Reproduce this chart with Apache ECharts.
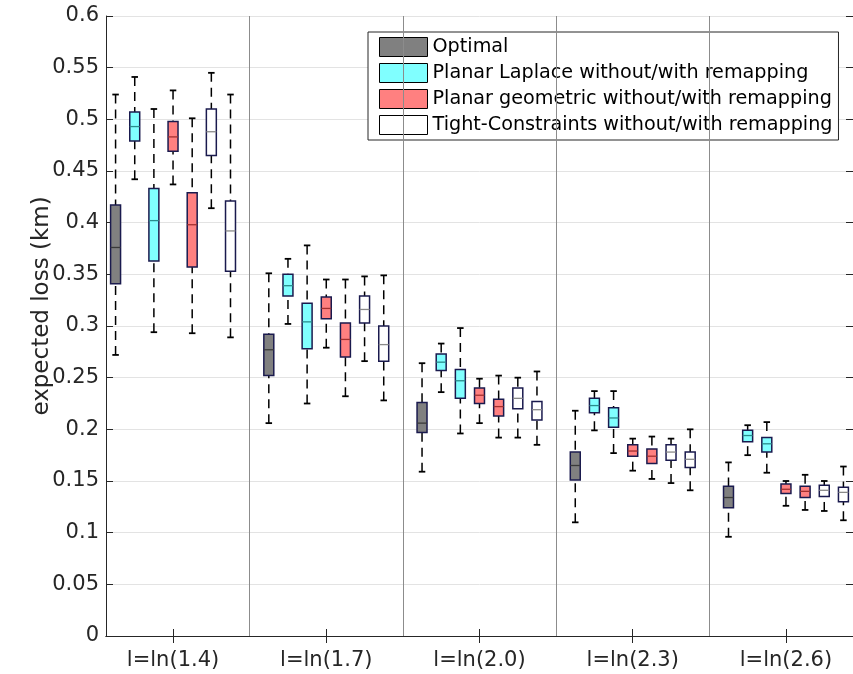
<!DOCTYPE html>
<html>
<head>
<meta charset="utf-8">
<script src="https://cdn.jsdelivr.net/npm/echarts@6/dist/echarts.min.js"></script>
<style>
html,body{margin:0;padding:0;background:#fff;}
#chart{width:853px;height:674px;}
</style>
</head>
<body>
<div id="chart"></div>
<script>
// Group labels (x axis)
const groupLabels = ['l=ln(1.4)', 'l=ln(1.7)', 'l=ln(2.0)', 'l=ln(2.3)', 'l=ln(2.6)'];
// Y axis ticks
const yTicks = [0, 0.05, 0.1, 0.15, 0.2, 0.25, 0.3, 0.35, 0.4, 0.45, 0.5, 0.55, 0.6];

// Each entry: [lower whisker, Q1, median, Q3, upper whisker], one per group
const optimal = [
  [0.272, 0.341, 0.376, 0.417, 0.524],
  [0.206, 0.252, 0.277, 0.292, 0.351],
  [0.159, 0.197, 0.206, 0.226, 0.264],
  [0.110, 0.151, 0.165, 0.178, 0.218],
  [0.096, 0.124, 0.134, 0.145, 0.168]
];
const laplaceWithout = [
  [0.442, 0.479, 0.493, 0.507, 0.541],
  [0.302, 0.329, 0.339, 0.350, 0.365],
  [0.236, 0.257, 0.265, 0.273, 0.283],
  [0.199, 0.216, 0.223, 0.230, 0.237],
  [0.175, 0.188, 0.194, 0.199, 0.204]
];
const laplaceWith = [
  [0.294, 0.363, 0.402, 0.433, 0.510],
  [0.225, 0.278, 0.304, 0.322, 0.378],
  [0.196, 0.230, 0.247, 0.258, 0.298],
  [0.177, 0.202, 0.211, 0.221, 0.237],
  [0.158, 0.178, 0.186, 0.192, 0.207]
];
const geomWithout = [
  [0.437, 0.469, 0.483, 0.498, 0.528],
  [0.279, 0.307, 0.317, 0.328, 0.345],
  [0.206, 0.225, 0.233, 0.240, 0.249],
  [0.160, 0.174, 0.179, 0.185, 0.191],
  [0.126, 0.138, 0.142, 0.147, 0.150]
];
const geomWith = [
  [0.293, 0.357, 0.398, 0.429, 0.501],
  [0.232, 0.270, 0.287, 0.303, 0.345],
  [0.192, 0.213, 0.222, 0.229, 0.252],
  [0.152, 0.167, 0.174, 0.181, 0.193],
  [0.122, 0.134, 0.140, 0.145, 0.156]
];
const tightWithout = [
  [0.414, 0.465, 0.488, 0.510, 0.545],
  [0.266, 0.303, 0.316, 0.329, 0.348],
  [0.192, 0.220, 0.230, 0.240, 0.250],
  [0.148, 0.170, 0.178, 0.185, 0.191],
  [0.121, 0.135, 0.141, 0.146, 0.150]
];
const tightWith = [
  [0.289, 0.353, 0.392, 0.421, 0.524],
  [0.228, 0.266, 0.282, 0.300, 0.349],
  [0.185, 0.209, 0.219, 0.227, 0.256],
  [0.141, 0.163, 0.171, 0.178, 0.200],
  [0.112, 0.130, 0.139, 0.144, 0.164]
];

const slotsPerGroup = 8;
const nSlots = groupLabels.length * slotsPerGroup - 1;
const categories = Array.from({length: nSlots}, (_, i) => String(i + 1));

function place(arr, offset) {
  return arr.map((v, g) => [g * slotsPerGroup + offset].concat(v));
}

const FONT = 'DejaVu Sans';
const AX = '#262626';

function makeRender(fill, median) {
  return function (params, api) {
    const x = api.value(0);
    const lo = api.coord([x, api.value(1)]);
    const q1 = api.coord([x, api.value(2)]);
    const md = api.coord([x, api.value(3)]);
    const q3 = api.coord([x, api.value(4)]);
    const hi = api.coord([x, api.value(5)]);
    const band = api.size([1, 0])[0];
    const bw = band * 0.52;
    const cw = band * 0.34;
    const cx = q1[0];
    const dash = {stroke: '#000', lineWidth: 1.5, lineDash: [9, 6]};
    const solid = {stroke: '#000', lineWidth: 1.8};
    return {
      type: 'group',
      children: [
        {type: 'line', shape: {x1: cx, y1: hi[1], x2: cx, y2: q3[1]}, style: dash},
        {type: 'line', shape: {x1: cx, y1: lo[1], x2: cx, y2: q1[1]}, style: dash},
        {type: 'line', shape: {x1: cx - cw / 2, y1: hi[1], x2: cx + cw / 2, y2: hi[1]}, style: solid},
        {type: 'line', shape: {x1: cx - cw / 2, y1: lo[1], x2: cx + cw / 2, y2: lo[1]}, style: solid},
        {type: 'rect', shape: {x: cx - bw / 2, y: q3[1], width: bw, height: q1[1] - q3[1]},
          style: {fill: fill, stroke: '#1a1a4e', lineWidth: 1.5}},
        {type: 'line', shape: {x1: cx - bw / 2, y1: md[1], x2: cx + bw / 2, y2: md[1]},
          style: {stroke: median, lineWidth: 1.3}}
      ]
    };
  };
}

const methods = [
  {name: 'Optimal', fill: '#808080', median: '#3a3a3a', data: place(optimal, 0)},
  {name: 'Planar Laplace without/with remapping', fill: '#80ffff', median: '#2a8c8c',
    data: place(laplaceWithout, 1).concat(place(laplaceWith, 2))},
  {name: 'Planar geometric without/with remapping', fill: '#ff8080', median: '#a33030',
    data: place(geomWithout, 3).concat(place(geomWith, 4))},
  {name: 'Tight-Constraints without/with remapping', fill: '#ffffff', median: '#8a8a8a',
    data: place(tightWithout, 5).concat(place(tightWith, 6))}
];

const series = methods.map((m, i) => ({
  type: 'custom',
  name: m.name,
  xAxisIndex: 0,
  yAxisIndex: 0,
  renderItem: makeRender(m.fill, m.median),
  itemStyle: {color: m.fill, borderColor: '#000'},
  encode: {x: 0, y: [1, 2, 3, 4, 5]},
  data: m.data,
  z: 3
}));

series[0].markLine = {
  silent: true,
  symbol: 'none',
  label: {show: false},
  animation: false,
  lineStyle: {color: '#8c8c8c', type: 'solid', width: 1},
  data: [1, 2, 3, 4].map(k => ({xAxis: String(k * slotsPerGroup)}))
};

const labelAt = (index) => index % slotsPerGroup === 3;

const chart = echarts.init(document.getElementById('chart'), null, {renderer: 'canvas'});
chart.setOption({
  animation: false,
  backgroundColor: '#fff',
  textStyle: {fontFamily: FONT},
  grid: {left: 106, right: -3, top: 16, bottom: 38, containLabel: false},
  legend: {
    orient: 'vertical',
    left: 368,
    top: 32,
    itemWidth: 48,
    itemHeight: 19,
    itemGap: 6,
    itemTextGap: 5,
    padding: [5, 6, 5, 11],
    backgroundColor: '#fff',
    borderColor: AX,
    borderWidth: 1,
    borderRadius: 0,
    icon: 'rect',
    textStyle: {fontFamily: FONT, fontSize: 19.2, color: '#000'},
    data: methods.map(m => ({
      name: m.name,
      icon: 'rect',
      itemStyle: {color: m.fill, borderColor: '#000', borderWidth: 1}
    }))
  },
  xAxis: [
    {
      type: 'category',
      data: categories,
      position: 'bottom',
      boundaryGap: true,
      axisLine: {show: true, lineStyle: {color: AX, width: 1}},
      axisTick: {show: true, inside: true, length: 7, alignWithLabel: true, interval: labelAt,
        lineStyle: {color: AX}},
      axisLabel: {show: true, interval: labelAt, margin: 14, fontSize: 21, fontFamily: FONT, color: AX,
        formatter: (v, idx) => groupLabels[Math.floor(idx / slotsPerGroup)]},
      splitLine: {show: false}
    },
    {
      type: 'category',
      data: categories,
      position: 'top',
      boundaryGap: true,
      axisLine: {show: true, lineStyle: {color: AX, width: 1}},
      axisTick: {show: true, inside: true, length: 7, alignWithLabel: true, interval: labelAt,
        lineStyle: {color: AX}},
      axisLabel: {show: false, interval: labelAt},
      splitLine: {show: false}
    }
  ],
  yAxis: [
    {
      type: 'value',
      min: yTicks[0],
      max: yTicks[yTicks.length - 1],
      interval: 0.05,
      name: 'expected loss (km)',
      nameLocation: 'middle',
      nameGap: 52,
      nameMoveOverlap: false,
      nameTextStyle: {fontSize: 23, fontFamily: FONT, color: AX, padding: [0, 0, 0, 40]},
      axisLine: {show: true, lineStyle: {color: AX, width: 1}},
      axisTick: {show: true, inside: true, length: 7, lineStyle: {color: AX}},
      axisLabel: {fontSize: 21, fontFamily: FONT, color: AX, margin: 7,
        formatter: v => String(parseFloat(v.toFixed(2)))},
      splitLine: {show: true, lineStyle: {color: '#e3e3e3', width: 1}}
    },
    {
      type: 'value',
      position: 'right',
      min: yTicks[0],
      max: yTicks[yTicks.length - 1],
      interval: 0.05,
      axisLine: {show: true, lineStyle: {color: AX, width: 1}},
      axisTick: {show: true, inside: true, length: 7, lineStyle: {color: AX}},
      axisLabel: {show: false},
      splitLine: {show: false}
    }
  ],
  series: series
});
</script>
</body>
</html>
